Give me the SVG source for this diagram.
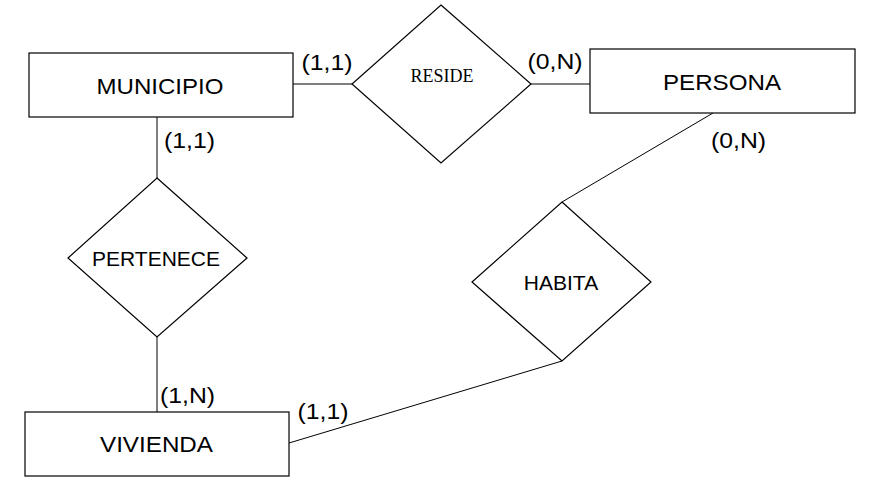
<svg xmlns="http://www.w3.org/2000/svg" width="873" height="495" viewBox="0 0 873 495">
<style>
.shape{fill:#fff;stroke:#000;stroke-width:1.2}
.conn line{stroke:#000;stroke-width:1}
.t{font-family:"Liberation Sans",Arial,sans-serif;fill:#000}
.name{font-size:22px;text-anchor:middle}
.rel{font-size:21px;text-anchor:middle}
.card{font-size:22px}
.serif{font-family:"Liberation Serif","Times New Roman",serif;font-size:18px;text-anchor:middle;fill:#000}
</style>
<rect width="873" height="495" fill="#fff"/>
<g id="connectors" class="conn">
<line x1="293" y1="84" x2="352" y2="84"/>
<line x1="531" y1="84" x2="590" y2="84"/>
<line x1="157" y1="117" x2="157" y2="178"/>
<line x1="157" y1="337" x2="157" y2="412"/>
<line x1="713" y1="113" x2="562" y2="202"/>
<line x1="562" y1="361" x2="289" y2="443"/>
</g>
<g id="municipio">
<rect class="shape" x="29" y="53" width="264" height="64"/>
<text class="t name" x="160" y="93.5" textLength="127" lengthAdjust="spacingAndGlyphs">MUNICIPIO</text>
</g>
<g id="persona">
<rect class="shape" x="590" y="49" width="265" height="64"/>
<text class="t name" x="722" y="90" textLength="118" lengthAdjust="spacingAndGlyphs">PERSONA</text>
</g>
<g id="vivienda">
<rect class="shape" x="25" y="412" width="264" height="64"/>
<text class="t name" x="156.5" y="452" textLength="113" lengthAdjust="spacingAndGlyphs">VIVIENDA</text>
</g>
<g id="reside">
<polygon class="shape" points="441,5 531,84 441,163 352,84"/>
<text class="serif" x="442" y="82">RESIDE</text>
</g>
<g id="pertenece">
<polygon class="shape" points="157,178 247,258 157,337 68,258"/>
<text class="t rel" x="156" y="266">PERTENECE</text>
</g>
<g id="habita">
<polygon class="shape" points="562,202 651,282 562,361 472,282"/>
<text class="t rel" x="561" y="290">HABITA</text>
</g>
<g id="cardinalities">
<text class="t card" x="301.5" y="70" textLength="51" lengthAdjust="spacingAndGlyphs">(1,1)</text>
<text class="t card" x="527.5" y="69" textLength="55" lengthAdjust="spacingAndGlyphs">(0,N)</text>
<text class="t card" x="164" y="147.5" textLength="51" lengthAdjust="spacingAndGlyphs">(1,1)</text>
<text class="t card" x="711" y="148" textLength="55" lengthAdjust="spacingAndGlyphs">(0,N)</text>
<text class="t card" x="160" y="402.5" textLength="55" lengthAdjust="spacingAndGlyphs">(1,N)</text>
<text class="t card" x="297.5" y="418.5" textLength="51" lengthAdjust="spacingAndGlyphs">(1,1)</text>
</g>
</svg>
